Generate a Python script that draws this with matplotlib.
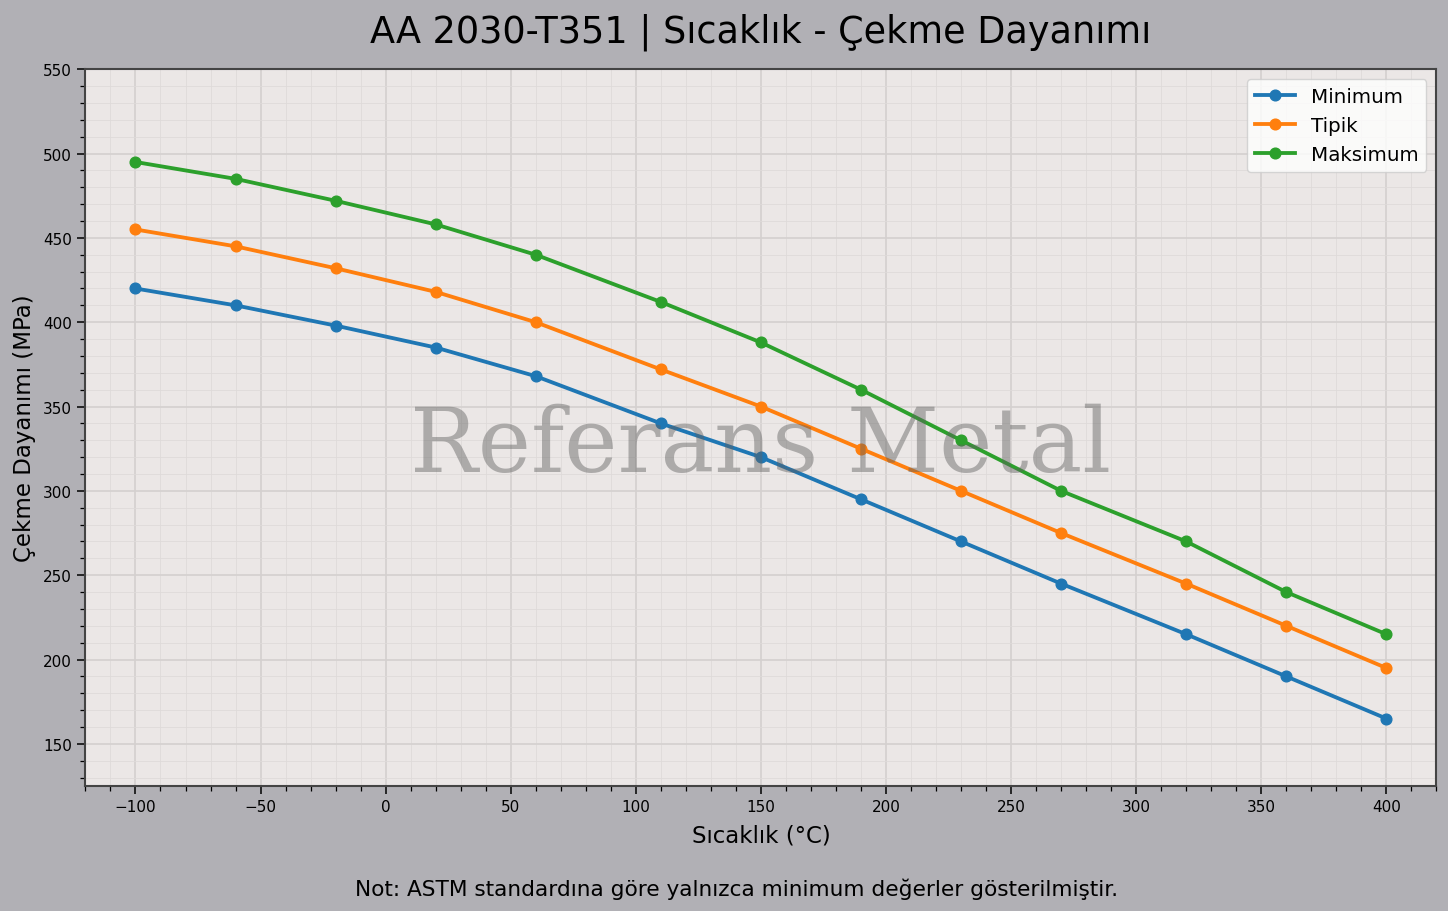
import numpy as np
import matplotlib.pyplot as plt
from matplotlib.ticker import MultipleLocator

# --- Veri ---
sicaklik = [-100, -60, -20, 20, 60, 110, 150, 190, 230, 270, 320, 360, 400]
minimum = [420, 410, 398, 385, 368, 340, 320, 295, 270, 245, 215, 190, 165]
tipik = [455, 445, 432, 418, 400, 372, 350, 325, 300, 275, 245, 220, 195]
maksimum = [495, 485, 472, 458, 440, 412, 388, 360, 330, 300, 270, 240, 215]

# --- Figure ---
fig, ax = plt.subplots(figsize=(14.48, 9.12), dpi=100)
fig.patch.set_facecolor("#b1b0b5")
ax.set_facecolor("#ebe7e6")

ax.plot(sicaklik, minimum, marker="o", lw=2.75, ms=7.7, color="#1f77b4", label="Minimum")
ax.plot(sicaklik, tipik, marker="o", lw=2.75, ms=7.7, color="#ff7f0e", label="Tipik")
ax.plot(sicaklik, maksimum, marker="o", lw=2.75, ms=7.7, color="#2ca02c", label="Maksimum")

ax.set_xlim(-120, 420)
ax.set_ylim(125, 550)
ax.xaxis.set_major_locator(MultipleLocator(50))
ax.yaxis.set_major_locator(MultipleLocator(50))
ax.xaxis.set_minor_locator(MultipleLocator(10))
ax.yaxis.set_minor_locator(MultipleLocator(10))
ax.grid(which="major", color="#d4d0cf", lw=1.2)
ax.grid(which="minor", color="#dedad9", lw=0.6)
ax.set_axisbelow(True)
ax.tick_params(which="major", labelsize=11, length=6, width=1.1)
ax.tick_params(which="minor", length=3.5, width=0.9)
for s in ax.spines.values():
    s.set_color("#444444")
    s.set_linewidth(1.5)

ax.set_title("AA 2030-T351 | Sıcaklık - Çekme Dayanımı", fontsize=26.4, pad=20)
ax.set_xlabel("Sıcaklık (°C)", fontsize=16.5, labelpad=7)
ax.set_ylabel("Çekme Dayanımı (MPa)", fontsize=16.5, labelpad=5.3)
ax.legend(loc="upper right", fontsize=14.3)

# watermark
ax.text(0.5, 0.474, "Referans Metal", transform=ax.transAxes, fontsize=64.8,
        family="DejaVu Serif", color="#606060", alpha=0.45,
        ha="center", va="center", zorder=10)

fig.text(0.509, 0.018, "Not: ASTM standardına göre yalnızca minimum değerler gösterilmiştir.",
         ha="center", fontsize=15.6)

plt.subplots_adjust(left=0.059, right=0.992, top=0.923, bottom=0.137)
fig.savefig("out.png", facecolor=fig.get_facecolor())
